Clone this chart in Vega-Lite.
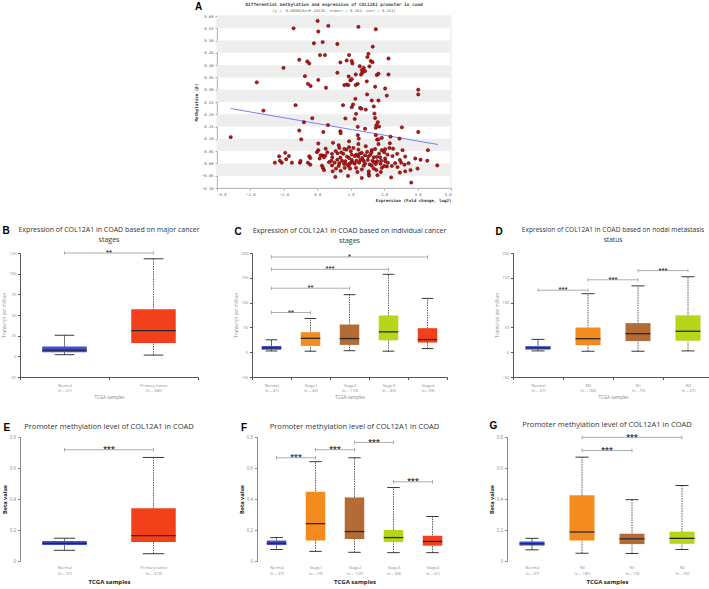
{
"$schema":"https://vega.github.io/schema/vega-lite/v6.json",
"background":"white",
"padding":{"top":1,"left":1,"right":1,"bottom":1},
"config":{"view":{"stroke":null},"font":"Open Sans","axis":{"labelFont":"Open Sans","titleFont":"Open Sans","labelOverlap":false,"tickCount":50},"title":{"font":"Open Sans"}},
"spacing":22,
"vconcat":[
{"spacing":0,"hconcat":[
 {"width":174,"height":10,"data":{"values":[{}]},"mark":{"type":"point","opacity":0},"encoding":{}},
 {"title":{"text":"A","orient":"left","angle":0,"anchor":"end","align":"left","baseline":"top","frame":"bounds","fontSize":10,"fontWeight":"bold","font":"Liberation Sans","color":"#000","offset":-8},
  "vconcat":[{
  "width":234,"height":172,
  "title":{"text":"Differential methylation and expression of COL12A1 promoter  in coad","subtitle":"(y = -0.000024x+0.18120, stderr = 0.163, corr = 0.141)","font":"DejaVu Sans Mono","fontSize":4.4,"fontWeight":"bold","color":"#444","subtitleFont":"DejaVu Sans Mono","subtitleFontSize":3.8,"subtitleColor":"#666","subtitlePadding":2,"offset":0},
  "view":{"stroke":"#cccccc","strokeWidth":0.5},
  "layer":[
   {"data":{"values":[{"from":0.55,"to":0.60},{"from":0.45,"to":0.50},{"from":0.35,"to":0.40},{"from":0.25,"to":0.30},{"from":0.15,"to":0.20},{"from":0.05,"to":0.10},{"from":-0.05,"to":0.0}]},
    "mark":{"type":"rect","color":"#eeeeee"},
    "encoding":{"y":{"field":"from","type":"quantitative","scale":{"domain":[-0.1,0.6],"nice":false,"zero":false},
      "axis":{"values":[-0.1,-0.05,0,0.05,0.1,0.15,0.2,0.25,0.3,0.35,0.4,0.45,0.5,0.55,0.6],"tickCount":50,"format":".2f","labelOverlap":false,"title":"Methylation (β)","grid":false,"labelFont":"DejaVu Sans Mono","labelFontSize":3.8,"labelColor":"#555","titleFont":"DejaVu Sans Mono","titleFontSize":4.2,"titleColor":"#333","tickSize":2,"tickColor":"#aaaaaa","domainColor":"#bbbbbb","labelPadding":2,"titlePadding":3}},
     "y2":{"field":"to"}}},
   {"data":{"values":[{"expr":-2.59,"meth":0.2235},{"expr":3.61,"meth":0.077}]},
    "mark":{"type":"line","color":"#7f7ff0","strokeWidth":1},
    "encoding":{"x":{"field":"expr","type":"quantitative","scale":{"domain":[-3,4],"nice":false,"zero":false},
      "axis":{"values":[-3,-2,-1,0,1,2,3,4],"tickCount":50,"labelOverlap":false,"title":"Expression (Fold change, log2)","titleAnchor":"end","grid":false,"labelFont":"DejaVu Sans Mono","labelFontSize":3.8,"labelColor":"#555","titleFont":"DejaVu Sans Mono","titleFontSize":4.2,"titleColor":"#333","tickSize":2,"tickColor":"#aaaaaa","domainColor":"#bbbbbb","labelPadding":2,"titlePadding":3}},
     "y":{"field":"meth","type":"quantitative","scale":{"domain":[-0.1,0.6],"nice":false,"zero":false}}}},
   {"data":{"values":[
{"expr":0.01,"meth":0.58},{"expr":0.33,"meth":0.56},{"expr":-0.71,"meth":0.55},{"expr":1.23,"meth":0.556},{"expr":1.75,"meth":0.546},{"expr":0.03,"meth":0.537},{"expr":-0.10,"meth":0.489},{"expr":0.16,"meth":0.494},{"expr":0.60,"meth":0.486},{"expr":1.66,"meth":0.475},{"expr":0.08,"meth":0.441},{"expr":0.23,"meth":0.441},{"expr":0.95,"meth":0.441},{"expr":1.53,"meth":0.446},{"expr":1.50,"meth":0.433},{"expr":2.13,"meth":0.427},{"expr":-0.54,"meth":0.422},{"expr":-0.30,"meth":0.415},{"expr":-0.24,"meth":0.407},{"expr":0.88,"meth":0.419},{"expr":0.69,"meth":0.411},{"expr":1.03,"meth":0.417},{"expr":1.05,"meth":0.407},{"expr":1.60,"meth":0.417},{"expr":1.65,"meth":0.412},{"expr":-1.01,"meth":0.389},{"expr":1.27,"meth":0.396},{"expr":1.39,"meth":0.389},{"expr":1.56,"meth":0.395},{"expr":1.33,"meth":0.38},{"expr":1.43,"meth":0.376},{"expr":1.35,"meth":0.369},{"expr":0.60,"meth":0.369},{"expr":1.15,"meth":0.362},{"expr":1.31,"meth":0.362},{"expr":-0.37,"meth":0.355},{"expr":0.94,"meth":0.354},{"expr":0.99,"meth":0.338},{"expr":1.03,"meth":0.343},{"expr":2.13,"meth":0.362},{"expr":1.78,"meth":0.36},{"expr":1.83,"meth":0.365},{"expr":0.03,"meth":0.34},{"expr":-1.81,"meth":0.33},{"expr":-0.28,"meth":0.324},{"expr":-0.20,"meth":0.315},{"expr":0.88,"meth":0.321},{"expr":0.81,"meth":0.319},{"expr":0.93,"meth":0.319},{"expr":1.15,"meth":0.319},{"expr":1.21,"meth":0.324},{"expr":1.48,"meth":0.334},{"expr":0.26,"meth":0.308},{"expr":1.73,"meth":0.312},{"expr":2.03,"meth":0.305},{"expr":3.02,"meth":0.30},{"expr":3.02,"meth":0.281},{"expr":1.49,"meth":0.281},{"expr":2.08,"meth":0.276},{"expr":1.14,"meth":0.263},{"expr":1.63,"meth":0.256},{"expr":1.83,"meth":0.256},{"expr":1.07,"meth":0.24},{"expr":1.03,"meth":0.229},{"expr":-0.65,"meth":0.237},{"expr":0.77,"meth":0.237},{"expr":1.69,"meth":0.232},{"expr":1.28,"meth":0.226},{"expr":1.32,"meth":0.223},{"expr":-1.61,"meth":0.215},{"expr":1.45,"meth":0.219},{"expr":1.71,"meth":0.203},{"expr":1.16,"meth":0.202},{"expr":1.73,"meth":0.185},{"expr":-0.15,"meth":0.184},{"expr":0.84,"meth":0.183},{"expr":1.12,"meth":0.181},{"expr":-0.40,"meth":0.168},{"expr":1.81,"meth":0.168},{"expr":1.77,"meth":0.156},{"expr":0.32,"meth":0.156},{"expr":-0.54,"meth":0.134},{"expr":1.75,"meth":0.145},{"expr":1.85,"meth":0.15},{"expr":1.43,"meth":0.141},{"expr":2.53,"meth":0.147},{"expr":1.21,"meth":0.149},{"expr":0.18,"meth":0.128},{"expr":0.69,"meth":0.131},{"expr":3.02,"meth":0.128},{"expr":-2.59,"meth":0.107},{"expr":-0.48,"meth":0.098},{"expr":1.75,"meth":0.115},{"expr":1.21,"meth":0.115},{"expr":1.79,"meth":0.097},{"expr":1.83,"meth":0.098},{"expr":0.70,"meth":0.123},{"expr":1.93,"meth":0.104},{"expr":2.19,"meth":0.109},{"expr":2.46,"meth":0.101},{"expr":1.24,"meth":0.101},
{"expr":0.03,"meth":0.081},{"expr":0.47,"meth":0.084},{"expr":0.95,"meth":0.09},{"expr":1.23,"meth":0.079},{"expr":1.83,"meth":0.079},{"expr":2.17,"meth":0.082},{"expr":0.64,"meth":0.074},{"expr":0.66,"meth":0.063},{"expr":1.45,"meth":0.07},{"expr":2.16,"meth":0.063},{"expr":2.27,"meth":0.06},{"expr":2.55,"meth":0.054},{"expr":3.31,"meth":0.054},{"expr":0.95,"meth":0.066},{"expr":0.87,"meth":0.056},{"expr":0.81,"meth":0.059},{"expr":1.08,"meth":0.063},{"expr":1.23,"meth":0.056},{"expr":0.03,"meth":0.054},{"expr":-0.01,"meth":0.046},{"expr":-0.96,"meth":0.043},{"expr":1.73,"meth":0.059},{"expr":1.63,"meth":0.054},{"expr":1.93,"meth":0.054},{"expr":2.03,"meth":0.058},{"expr":1.49,"meth":0.047},{"expr":1.33,"meth":0.043},{"expr":0.61,"meth":0.041},{"expr":0.44,"meth":0.039},{"expr":0.78,"meth":0.039},{"expr":1.03,"meth":0.036},{"expr":1.17,"meth":0.036},{"expr":1.43,"meth":0.033},{"expr":1.59,"meth":0.036},{"expr":2.10,"meth":0.036},{"expr":2.39,"meth":0.039},{"expr":0.15,"meth":0.033},{"expr":-0.85,"meth":0.03},{"expr":-1.14,"meth":0.029},{"expr":0.10,"meth":0.033},{"expr":0.24,"meth":0.032},{"expr":-0.24,"meth":0.029},{"expr":0.45,"meth":0.025},{"expr":0.69,"meth":0.024},{"expr":0.89,"meth":0.028},{"expr":0.95,"meth":0.022},{"expr":1.12,"meth":0.03},{"expr":1.23,"meth":0.028},{"expr":1.35,"meth":0.022},{"expr":1.53,"meth":0.028},{"expr":1.69,"meth":0.025},{"expr":1.78,"meth":0.027},{"expr":1.88,"meth":0.025},{"expr":2.03,"meth":0.02},{"expr":2.63,"meth":0.028},{"expr":-0.21,"meth":0.022},{"expr":0.07,"meth":0.02},{"expr":0.20,"meth":0.025},{"expr":-0.93,"meth":0.017},{"expr":-1.12,"meth":0.011},{"expr":0.42,"meth":0.011},{"expr":0.60,"meth":0.015},{"expr":0.74,"meth":0.011},{"expr":0.84,"meth":0.009},{"expr":1.03,"meth":0.014},{"expr":1.17,"meth":0.011},{"expr":1.29,"meth":0.014},{"expr":1.39,"meth":0.01},{"expr":1.51,"meth":0.014},{"expr":1.65,"meth":0.011},{"expr":1.79,"meth":0.009},{"expr":1.91,"meth":0.011},{"expr":2.03,"meth":0.009},{"expr":2.47,"meth":0.014},{"expr":3.09,"meth":0.015},{"expr":3.29,"meth":0.011},{"expr":2.93,"meth":0.02},{"expr":-1.27,"meth":0.003},{"expr":-1.06,"meth":0.003},{"expr":-0.76,"meth":0.003},{"expr":-0.52,"meth":0.003},{"expr":-0.28,"meth":0.003},{"expr":0.52,"meth":0.003},{"expr":0.66,"meth":0.001},{"expr":0.80,"meth":-0.002},{"expr":0.98,"meth":0.001},{"expr":1.12,"meth":-0.001},{"expr":1.25,"meth":0.003},{"expr":1.43,"meth":-0.001},{"expr":1.57,"meth":-0.004},{"expr":1.75,"meth":-0.002},{"expr":1.89,"meth":-0.001},{"expr":2.11,"meth":0.003},{"expr":2.33,"meth":0.001},{"expr":2.51,"meth":0.003},{"expr":2.73,"meth":0.001},{"expr":-0.21,"meth":-0.005},{"expr":0.14,"meth":-0.009},{"expr":0.44,"meth":-0.008},{"expr":0.64,"meth":-0.01},{"expr":0.94,"meth":-0.01},{"expr":1.39,"meth":-0.009},{"expr":1.63,"meth":-0.009},{"expr":2.08,"meth":-0.012},{"expr":2.23,"meth":-0.01},{"expr":2.61,"meth":-0.005},{"expr":3.59,"meth":-0.008},{"expr":0.17,"meth":-0.018},{"expr":0.20,"meth":-0.027},{"expr":0.56,"meth":-0.021},{"expr":0.82,"meth":-0.018},{"expr":0.98,"meth":-0.021},{"expr":1.16,"meth":-0.018},{"expr":1.33,"meth":-0.024},{"expr":1.69,"meth":-0.021},{"expr":1.77,"meth":-0.027},{"expr":1.93,"meth":-0.018},{"expr":3.00,"meth":-0.021},{"expr":2.79,"meth":-0.027},{"expr":2.63,"meth":-0.032},{"expr":1.54,"meth":-0.032},{"expr":2.47,"meth":-0.037},{"expr":1.54,"meth":-0.043},{"expr":0.54,"meth":-0.055},{"expr":0.92,"meth":-0.051},{"expr":1.33,"meth":-0.059},{"expr":2.21,"meth":-0.057},{"expr":2.81,"meth":-0.078},{"expr":1.55,"meth":-0.05},{"expr":0.46,"meth":-0.032},{"expr":1.80,"meth":-0.048},
{"expr":0.30,"meth":0.045},{"expr":0.55,"meth":0.05},{"expr":0.72,"meth":0.045},{"expr":1.00,"meth":0.05},{"expr":1.27,"meth":0.04},{"expr":1.62,"meth":0.045},{"expr":1.85,"meth":0.04},{"expr":2.25,"meth":0.03},{"expr":2.00,"meth":0.045},{"expr":0.35,"meth":0.005},{"expr":0.90,"meth":-0.005},{"expr":1.05,"meth":0.005},{"expr":1.70,"meth":0.005},{"expr":2.40,"meth":-0.015},{"expr":1.20,"meth":-0.035},{"expr":0.70,"meth":-0.03},{"expr":1.90,"meth":-0.035},{"expr":2.00,"meth":-0.01},{"expr":0.25,"meth":0.06},{"expr":-0.50,"meth":0.01}
   ]},
    "mark":{"type":"point","filled":true,"size":11,"color":"#cc1010","stroke":"#3a0000","strokeWidth":0.5,"opacity":1},
    "encoding":{"x":{"field":"expr","type":"quantitative","scale":{"domain":[-3,4],"nice":false,"zero":false}},
     "y":{"field":"meth","type":"quantitative","scale":{"domain":[-0.1,0.6],"nice":false,"zero":false}}}}
  ]}]}
]},
{"spacing":33,"hconcat":[
 {"title":{"text":"B","orient":"left","angle":0,"anchor":"end","align":"left","baseline":"top","frame":"bounds","fontSize":10,"fontWeight":"bold","font":"Liberation Sans","color":"#000","offset":-8},
  "vconcat":[{
  "width":178,"height":124,
  "title":{"text":["Expression of COL12A1 in COAD based on major cancer","stages"],"fontSize":7,"fontWeight":"normal","color":"#333","lineHeight":10,"offset":7},
  "layer":[
   {"data":{"values":[{"group":"Normal","min":2,"q1":5,"median":7.5,"q3":12,"max":25.5},{"group":"Primary tumor","min":1.5,"q1":16,"median":31,"q3":57,"max":118}]},
    "transform":[{"calculate":"indexof(['Normal','Primary tumor'], datum.group)","as":"idx"},{"calculate":"datum.idx-0.25","as":"lo"},{"calculate":"datum.idx+0.25","as":"hi"},{"calculate":"datum.idx-0.11","as":"clo"},{"calculate":"datum.idx+0.11","as":"chi"}],
    "layer":[
     {"mark":{"type":"rule","strokeWidth":0.8,"color":"#333"},
      "encoding":{"x":{"field":"idx","type":"quantitative","scale":{"domain":[-0.5,1.5],"nice":false,"zero":false},
        "axis":{"values":[-0.5,0,0.5,1,1.5],"tickCount":50,"title":"TCGA samples","grid":false,"domainColor":"#555","tickColor":"#555","tickSize":2.5,"tickOpacity":{"condition":{"test":"datum.value % 1 === 0","value":0},"value":1},"labelExpr":"datum.value % 1 !== 0 ? '' : [['Normal','Primary tumor'][datum.value], ['(n = 41)','(n = 286)'][datum.value]]","labelOverlap":false,"labelFlush":false,"labelFontSize":4,"labelColor":"#888","labelLineHeight":5.5,"labelPadding":3.5,"titleFontSize":4.5,"titleColor":"#888","titleFontWeight":"normal","titlePadding":1.5}},
       "y":{"field":"min","type":"quantitative","scale":{"domain":[-25,125],"nice":false,"zero":false},
        "axis":{"values":[-25,0,25,50,75,100,125],"tickCount":50,"labelOverlap":false,"title":"Transcript per million","grid":false,"domainColor":"#555","tickColor":"#555","tickSize":2.5,"labelFontSize":4,"labelColor":"#888","titleFontSize":4.5,"titleColor":"#888","titleFontWeight":"normal","labelPadding":2,"titlePadding":2}},
       "y2":{"field":"max"},
       "strokeDash":{"condition":{"test":"datum.group === 'Normal'","value":[1,0]},"value":[1.5,1]}}},
     {"mark":{"type":"rule","strokeWidth":0.9,"color":"#222"},"encoding":{"x":{"field":"clo","type":"quantitative"},"x2":{"field":"chi"},"y":{"field":"min","type":"quantitative"}}},
     {"mark":{"type":"rule","strokeWidth":0.9,"color":"#222"},"encoding":{"x":{"field":"clo","type":"quantitative"},"x2":{"field":"chi"},"y":{"field":"max","type":"quantitative"}}},
     {"mark":{"type":"bar"},"encoding":{"x":{"field":"lo","type":"quantitative"},"x2":{"field":"hi"},"y":{"field":"q1","type":"quantitative"},"y2":{"field":"q3"},
       "color":{"field":"group","type":"nominal","legend":null,"scale":{"domain":["Normal","Primary tumor","Stage1","Stage2","Stage3","Stage4","N0","N1","N2"],"range":["#3f4fd6","#f2401a","#f38b1f","#b36c36","#b5d619","#f2401a","#f38b1f","#b36c36","#b5d619"]}}}},
     {"mark":{"type":"rule","strokeWidth":1.3,"color":"#2a2a2a"},"encoding":{"x":{"field":"lo","type":"quantitative"},"x2":{"field":"hi"},"y":{"field":"median","type":"quantitative"}}}
    ]},
   {"data":{"values":[{"from":"Normal","to":"Primary tumor","level":125,"sig":"**"}]},
    "transform":[{"calculate":"indexof(['Normal','Primary tumor'], datum.from)","as":"a"},{"calculate":"indexof(['Normal','Primary tumor'], datum.to)","as":"b"},{"calculate":"(datum.a+datum.b)/2","as":"mid"},{"calculate":"datum.level-2","as":"lo"},{"calculate":"datum.level+2","as":"hi"}],
    "layer":[
     {"mark":{"type":"rule","color":"#999","strokeWidth":0.8},"encoding":{"x":{"field":"a","type":"quantitative"},"x2":{"field":"b"},"y":{"field":"level","type":"quantitative"}}},
     {"mark":{"type":"rule","color":"#999","strokeWidth":0.8},"encoding":{"x":{"field":"a","type":"quantitative"},"y":{"field":"lo","type":"quantitative"},"y2":{"field":"hi"}}},
     {"mark":{"type":"rule","color":"#999","strokeWidth":0.8},"encoding":{"x":{"field":"b","type":"quantitative"},"y":{"field":"lo","type":"quantitative"},"y2":{"field":"hi"}}},
     {"mark":{"type":"text","fontSize":5.5,"fontWeight":"bold","color":"#333","baseline":"alphabetic","dy":1},"encoding":{"x":{"field":"mid","type":"quantitative"},"y":{"field":"level","type":"quantitative"},"text":{"field":"sig"}}}
    ]}
  ]}]},
 {"spacing":46,"hconcat":[
 {"title":{"text":"C","orient":"left","angle":0,"anchor":"end","align":"left","baseline":"top","frame":"bounds","fontSize":10,"fontWeight":"bold","font":"Liberation Sans","color":"#000","offset":-8},
  "vconcat":[{
  "width":195,"height":124,
  "title":{"text":["Expression of COL12A1 in COAD based on individual cancer","stages"],"fontSize":7,"fontWeight":"normal","color":"#333","lineHeight":10,"offset":7},
  "layer":[
   {"data":{"values":[{"group":"Normal","min":2.5,"q1":5,"median":8.5,"q3":12.5,"max":25},{"group":"Stage1","min":2,"q1":12.7,"median":28,"q3":40.3,"max":68},{"group":"Stage2","min":3,"q1":14.7,"median":27.5,"q3":55.8,"max":116},{"group":"Stage3","min":2,"q1":24,"median":41,"q3":74,"max":157},{"group":"Stage4","min":7.3,"q1":19.4,"median":25.5,"q3":48.4,"max":108.4}]},
    "transform":[{"calculate":"indexof(['Normal','Stage1','Stage2','Stage3','Stage4'], datum.group)","as":"idx"},{"calculate":"datum.idx-0.25","as":"lo"},{"calculate":"datum.idx+0.25","as":"hi"},{"calculate":"datum.idx-0.15","as":"clo"},{"calculate":"datum.idx+0.15","as":"chi"}],
    "layer":[
     {"mark":{"type":"rule","strokeWidth":0.8,"color":"#333"},
      "encoding":{"x":{"field":"idx","type":"quantitative","scale":{"domain":[-0.5,4.5],"nice":false,"zero":false},
        "axis":{"values":[-0.5,0,0.5,1,1.5,2,2.5,3,3.5,4,4.5],"tickCount":50,"title":"TCGA samples","grid":false,"domainColor":"#555","tickColor":"#555","tickSize":2.5,"tickOpacity":{"condition":{"test":"datum.value % 1 === 0","value":0},"value":1},"labelExpr":"datum.value % 1 !== 0 ? '' : [['Normal','Stage1','Stage2','Stage3','Stage4'][datum.value], ['(n = 41)','(n = 45)','(n = 110)','(n = 80)','(n= 39)'][datum.value]]","labelOverlap":false,"labelFlush":false,"labelFontSize":4,"labelColor":"#888","labelLineHeight":5.5,"labelPadding":3.5,"titleFontSize":4.5,"titleColor":"#888","titleFontWeight":"normal","titlePadding":1.5}},
       "y":{"field":"min","type":"quantitative","scale":{"domain":[-50,200],"nice":false,"zero":false},
        "axis":{"values":[-50,0,50,100,150,200],"tickCount":50,"labelOverlap":false,"title":"Transcript per million","grid":false,"domainColor":"#555","tickColor":"#555","tickSize":2.5,"labelFontSize":4,"labelColor":"#888","titleFontSize":4.5,"titleColor":"#888","titleFontWeight":"normal","labelPadding":2,"titlePadding":2}},
       "y2":{"field":"max"},
       "strokeDash":{"condition":{"test":"datum.group === 'Normal'","value":[1,0]},"value":[1.5,1]}}},
     {"mark":{"type":"rule","strokeWidth":0.9,"color":"#222"},"encoding":{"x":{"field":"clo","type":"quantitative"},"x2":{"field":"chi"},"y":{"field":"min","type":"quantitative"}}},
     {"mark":{"type":"rule","strokeWidth":0.9,"color":"#222"},"encoding":{"x":{"field":"clo","type":"quantitative"},"x2":{"field":"chi"},"y":{"field":"max","type":"quantitative"}}},
     {"mark":{"type":"bar"},"encoding":{"x":{"field":"lo","type":"quantitative"},"x2":{"field":"hi"},"y":{"field":"q1","type":"quantitative"},"y2":{"field":"q3"},
       "color":{"field":"group","type":"nominal","legend":null,"scale":{"domain":["Normal","Primary tumor","Stage1","Stage2","Stage3","Stage4","N0","N1","N2"],"range":["#3f4fd6","#f2401a","#f38b1f","#b36c36","#b5d619","#f2401a","#f38b1f","#b36c36","#b5d619"]}}}},
     {"mark":{"type":"rule","strokeWidth":1.3,"color":"#2a2a2a"},"encoding":{"x":{"field":"lo","type":"quantitative"},"x2":{"field":"hi"},"y":{"field":"median","type":"quantitative"}}}
    ]},
   {"data":{"values":[{"from":"Normal","to":"Stage1","level":80,"sig":"**"},{"from":"Normal","to":"Stage2","level":129,"sig":"**"},{"from":"Normal","to":"Stage3","level":167,"sig":"***"},{"from":"Normal","to":"Stage4","level":192,"sig":"*"}]},
    "transform":[{"calculate":"indexof(['Normal','Stage1','Stage2','Stage3','Stage4'], datum.from)","as":"a"},{"calculate":"indexof(['Normal','Stage1','Stage2','Stage3','Stage4'], datum.to)","as":"b"},{"calculate":"(datum.a+datum.b)/2","as":"mid"},{"calculate":"datum.level-3.5","as":"lo"},{"calculate":"datum.level+3.5","as":"hi"}],
    "layer":[
     {"mark":{"type":"rule","color":"#999","strokeWidth":0.8},"encoding":{"x":{"field":"a","type":"quantitative"},"x2":{"field":"b"},"y":{"field":"level","type":"quantitative"}}},
     {"mark":{"type":"rule","color":"#999","strokeWidth":0.8},"encoding":{"x":{"field":"a","type":"quantitative"},"y":{"field":"lo","type":"quantitative"},"y2":{"field":"hi"}}},
     {"mark":{"type":"rule","color":"#999","strokeWidth":0.8},"encoding":{"x":{"field":"b","type":"quantitative"},"y":{"field":"lo","type":"quantitative"},"y2":{"field":"hi"}}},
     {"mark":{"type":"text","fontSize":5.5,"fontWeight":"bold","color":"#333","baseline":"alphabetic","dy":1},"encoding":{"x":{"field":"mid","type":"quantitative"},"y":{"field":"level","type":"quantitative"},"text":{"field":"sig"}}}
    ]}
  ]}]},
 {"title":{"text":"D","orient":"left","angle":0,"anchor":"end","align":"left","baseline":"top","frame":"bounds","fontSize":10,"fontWeight":"bold","font":"Liberation Sans","color":"#000","offset":-8},
  "vconcat":[{
  "width":200,"height":124,
  "title":{"text":["Expression of COL12A1 in COAD based on nodal metastasis","status"],"fontSize":6.6,"fontWeight":"normal","color":"#333","lineHeight":10,"offset":7},
  "layer":[
   {"data":{"values":[{"group":"Normal","min":2.6,"q1":5.3,"median":8.7,"q3":12.2,"max":25.8},{"group":"N0","min":1.9,"q1":14.2,"median":27.2,"q3":49.7,"max":118},{"group":"N1","min":1.9,"q1":22.4,"median":37.4,"q3":58.6,"max":133.7},{"group":"N2","min":2.6,"q1":23.1,"median":42.2,"q3":74.3,"max":152.2}]},
    "transform":[{"calculate":"indexof(['Normal','N0','N1','N2'], datum.group)","as":"idx"},{"calculate":"datum.idx-0.25","as":"lo"},{"calculate":"datum.idx+0.25","as":"hi"},{"calculate":"datum.idx-0.13","as":"clo"},{"calculate":"datum.idx+0.13","as":"chi"}],
    "layer":[
     {"mark":{"type":"rule","strokeWidth":0.8,"color":"#333"},
      "encoding":{"x":{"field":"idx","type":"quantitative","scale":{"domain":[-0.5,3.5],"nice":false,"zero":false},
        "axis":{"values":[-0.5,0,0.5,1,1.5,2,2.5,3,3.5],"tickCount":50,"title":"TCGA samples","grid":false,"domainColor":"#555","tickColor":"#555","tickSize":2.5,"tickOpacity":{"condition":{"test":"datum.value % 1 === 0","value":0},"value":1},"labelExpr":"datum.value % 1 !== 0 ? '' : [['Normal','N0','N1','N2'][datum.value], ['(n = 41)','(n = 166)','(n = 70)','(n = 47)'][datum.value]]","labelOverlap":false,"labelFlush":false,"labelFontSize":4,"labelColor":"#888","labelLineHeight":5.5,"labelPadding":3.5,"titleFontSize":4.5,"titleColor":"#888","titleFontWeight":"normal","titlePadding":1.5}},
       "y":{"field":"min","type":"quantitative","scale":{"domain":[-50,200],"nice":false,"zero":false},
        "axis":{"values":[-50,0,50,100,150,200],"tickCount":50,"labelOverlap":false,"title":"Transcript per million","grid":false,"domainColor":"#555","tickColor":"#555","tickSize":2.5,"labelFontSize":4,"labelColor":"#888","titleFontSize":4.5,"titleColor":"#888","titleFontWeight":"normal","labelPadding":2,"titlePadding":2}},
       "y2":{"field":"max"},
       "strokeDash":{"condition":{"test":"datum.group === 'Normal'","value":[1,0]},"value":[1.5,1]}}},
     {"mark":{"type":"rule","strokeWidth":0.9,"color":"#222"},"encoding":{"x":{"field":"clo","type":"quantitative"},"x2":{"field":"chi"},"y":{"field":"min","type":"quantitative"}}},
     {"mark":{"type":"rule","strokeWidth":0.9,"color":"#222"},"encoding":{"x":{"field":"clo","type":"quantitative"},"x2":{"field":"chi"},"y":{"field":"max","type":"quantitative"}}},
     {"mark":{"type":"bar"},"encoding":{"x":{"field":"lo","type":"quantitative"},"x2":{"field":"hi"},"y":{"field":"q1","type":"quantitative"},"y2":{"field":"q3"},
       "color":{"field":"group","type":"nominal","legend":null,"scale":{"domain":["Normal","Primary tumor","Stage1","Stage2","Stage3","Stage4","N0","N1","N2"],"range":["#3f4fd6","#f2401a","#f38b1f","#b36c36","#b5d619","#f2401a","#f38b1f","#b36c36","#b5d619"]}}}},
     {"mark":{"type":"rule","strokeWidth":1.3,"color":"#2a2a2a"},"encoding":{"x":{"field":"lo","type":"quantitative"},"x2":{"field":"hi"},"y":{"field":"median","type":"quantitative"}}}
    ]},
   {"data":{"values":[{"from":"Normal","to":"N0","level":125,"sig":"***"},{"from":"N0","to":"N1","level":146,"sig":"***"},{"from":"N1","to":"N2","level":164.5,"sig":"***"}]},
    "transform":[{"calculate":"indexof(['Normal','N0','N1','N2'], datum.from)","as":"a"},{"calculate":"indexof(['Normal','N0','N1','N2'], datum.to)","as":"b"},{"calculate":"(datum.a+datum.b)/2","as":"mid"},{"calculate":"datum.level-3.5","as":"lo"},{"calculate":"datum.level+3.5","as":"hi"}],
    "layer":[
     {"mark":{"type":"rule","color":"#999","strokeWidth":0.8},"encoding":{"x":{"field":"a","type":"quantitative"},"x2":{"field":"b"},"y":{"field":"level","type":"quantitative"}}},
     {"mark":{"type":"rule","color":"#999","strokeWidth":0.8},"encoding":{"x":{"field":"a","type":"quantitative"},"y":{"field":"lo","type":"quantitative"},"y2":{"field":"hi"}}},
     {"mark":{"type":"rule","color":"#999","strokeWidth":0.8},"encoding":{"x":{"field":"b","type":"quantitative"},"y":{"field":"lo","type":"quantitative"},"y2":{"field":"hi"}}},
     {"mark":{"type":"text","fontSize":5.5,"fontWeight":"bold","color":"#333","baseline":"alphabetic","dy":1},"encoding":{"x":{"field":"mid","type":"quantitative"},"y":{"field":"level","type":"quantitative"},"text":{"field":"sig"}}}
    ]}
  ]}]}
 ]}
]},
{"spacing":41,"hconcat":[
 {"title":{"text":"E","orient":"left","angle":0,"anchor":"end","align":"left","baseline":"top","frame":"bounds","fontSize":10,"fontWeight":"bold","font":"Liberation Sans","color":"#000","offset":-8},
  "vconcat":[{
  "width":178,"height":124,
  "title":{"text":"Promoter methylation level of COL12A1 in COAD","fontSize":7.5,"fontWeight":"normal","color":"#333","offset":4},
  "layer":[
   {"data":{"values":[{"group":"Normal","min":0.069,"q1":0.104,"median":0.114,"q3":0.129,"max":0.147},{"group":"Primary tumor","min":0.047,"q1":0.123,"median":0.164,"q3":0.341,"max":0.668}]},
    "transform":[{"calculate":"indexof(['Normal','Primary tumor'], datum.group)","as":"idx"},{"calculate":"datum.idx-0.25","as":"lo"},{"calculate":"datum.idx+0.25","as":"hi"},{"calculate":"datum.idx-0.12","as":"clo"},{"calculate":"datum.idx+0.12","as":"chi"}],
    "layer":[
     {"mark":{"type":"rule","strokeWidth":0.8,"color":"#333"},
      "encoding":{"x":{"field":"idx","type":"quantitative","scale":{"domain":[-0.5,1.5],"nice":false,"zero":false},
        "axis":{"values":[0,1],"tickCount":50,"title":"TCGA samples","grid":false,"domain":false,"ticks":false,"labelExpr":"[['Normal','Primary tumor'][datum.value], ['(n = 37)','(n = 313)'][datum.value]]","labelOverlap":false,"labelFlush":false,"labelFontSize":4,"labelColor":"#888","labelLineHeight":6,"labelPadding":4,"titleFontSize":6,"titleColor":"#222","titleFontWeight":"bold","titlePadding":3}},
       "y":{"field":"min","type":"quantitative","scale":{"domain":[0,0.8],"nice":false,"zero":false},
        "axis":{"values":[0,0.2,0.4,0.6,0.8],"tickCount":50,"labelOverlap":false,"format":".1~f","title":"Beta value","grid":false,"domainColor":"#888","tickColor":"#888","tickSize":2.5,"labelFontSize":4.5,"labelColor":"#888","titleFontSize":5.5,"titleColor":"#222","titleFontWeight":"bold","labelPadding":2,"titlePadding":2}},
       "y2":{"field":"max"},
       "strokeDash":{"condition":{"test":"datum.group === 'Normal'","value":[1,0]},"value":[1.5,1]}}},
     {"mark":{"type":"rule","strokeWidth":0.9,"color":"#222"},"encoding":{"x":{"field":"clo","type":"quantitative"},"x2":{"field":"chi"},"y":{"field":"min","type":"quantitative"}}},
     {"mark":{"type":"rule","strokeWidth":0.9,"color":"#222"},"encoding":{"x":{"field":"clo","type":"quantitative"},"x2":{"field":"chi"},"y":{"field":"max","type":"quantitative"}}},
     {"mark":{"type":"bar"},"encoding":{"x":{"field":"lo","type":"quantitative"},"x2":{"field":"hi"},"y":{"field":"q1","type":"quantitative"},"y2":{"field":"q3"},
       "color":{"field":"group","type":"nominal","legend":null,"scale":{"domain":["Normal","Primary tumor","Stage1","Stage2","Stage3","Stage4","N0","N1","N2"],"range":["#3f4fd6","#f2401a","#f38b1f","#b36c36","#b5d619","#f2401a","#f38b1f","#b36c36","#b5d619"]}}}},
     {"mark":{"type":"rule","strokeWidth":1.3,"color":"#2a2a2a"},"encoding":{"x":{"field":"lo","type":"quantitative"},"x2":{"field":"hi"},"y":{"field":"median","type":"quantitative"}}}
    ]},
   {"data":{"values":[{"from":"Normal","to":"Primary tumor","level":0.718,"sig":"***"}]},
    "transform":[{"calculate":"indexof(['Normal','Primary tumor'], datum.from)","as":"a"},{"calculate":"indexof(['Normal','Primary tumor'], datum.to)","as":"b"},{"calculate":"(datum.a+datum.b)/2","as":"mid"},{"calculate":"datum.level-0.012","as":"lo"},{"calculate":"datum.level+0.012","as":"hi"}],
    "layer":[
     {"mark":{"type":"rule","color":"#999","strokeWidth":0.8},"encoding":{"x":{"field":"a","type":"quantitative"},"x2":{"field":"b"},"y":{"field":"level","type":"quantitative"}}},
     {"mark":{"type":"rule","color":"#999","strokeWidth":0.8},"encoding":{"x":{"field":"a","type":"quantitative"},"y":{"field":"lo","type":"quantitative"},"y2":{"field":"hi"}}},
     {"mark":{"type":"rule","color":"#999","strokeWidth":0.8},"encoding":{"x":{"field":"b","type":"quantitative"},"y":{"field":"lo","type":"quantitative"},"y2":{"field":"hi"}}},
     {"mark":{"type":"text","fontSize":7,"fontWeight":"bold","color":"#333","baseline":"alphabetic","dy":1.5},"encoding":{"x":{"field":"mid","type":"quantitative"},"y":{"field":"level","type":"quantitative"},"text":{"field":"sig"}}}
    ]}
  ]}]},
 {"spacing":37,"hconcat":[
 {"title":{"text":"F","orient":"left","angle":0,"anchor":"end","align":"left","baseline":"top","frame":"bounds","fontSize":10,"fontWeight":"bold","font":"Liberation Sans","color":"#000","offset":-8},
  "vconcat":[{
  "width":195,"height":124,
  "title":{"text":"Promoter methylation level of COL12A1 in COAD","fontSize":7.5,"fontWeight":"normal","color":"#333","offset":4},
  "layer":[
   {"data":{"values":[{"group":"Normal","min":0.074,"q1":0.103,"median":0.115,"q3":0.132,"max":0.151},{"group":"Stage1","min":0.062,"q1":0.132,"median":0.241,"q3":0.447,"max":0.641},{"group":"Stage2","min":0.056,"q1":0.142,"median":0.19,"q3":0.41,"max":0.666},{"group":"Stage3","min":0.054,"q1":0.122,"median":0.151,"q3":0.2,"max":0.474},{"group":"Stage4","min":0.054,"q1":0.099,"median":0.126,"q3":0.163,"max":0.287}]},
    "transform":[{"calculate":"indexof(['Normal','Stage1','Stage2','Stage3','Stage4'], datum.group)","as":"idx"},{"calculate":"datum.idx-0.25","as":"lo"},{"calculate":"datum.idx+0.25","as":"hi"},{"calculate":"datum.idx-0.16","as":"clo"},{"calculate":"datum.idx+0.16","as":"chi"}],
    "layer":[
     {"mark":{"type":"rule","strokeWidth":0.8,"color":"#333"},
      "encoding":{"x":{"field":"idx","type":"quantitative","scale":{"domain":[-0.5,4.5],"nice":false,"zero":false},
        "axis":{"values":[0,1,2,3,4],"tickCount":50,"title":"TCGA samples","grid":false,"domain":false,"ticks":false,"labelExpr":"[['Normal','Stage1','Stage2','Stage3','Stage4'][datum.value], ['(n = 37)','(n = 50)','(n = 122)','(n = 88)','(n = 41)'][datum.value]]","labelOverlap":false,"labelFlush":false,"labelFontSize":4,"labelColor":"#888","labelLineHeight":6,"labelPadding":4,"titleFontSize":6,"titleColor":"#222","titleFontWeight":"bold","titlePadding":3}},
       "y":{"field":"min","type":"quantitative","scale":{"domain":[0,0.8],"nice":false,"zero":false},
        "axis":{"values":[0,0.2,0.4,0.6,0.8],"tickCount":50,"labelOverlap":false,"format":".1~f","title":"Beta value","grid":false,"domainColor":"#888","tickColor":"#888","tickSize":2.5,"labelFontSize":4.5,"labelColor":"#888","titleFontSize":5.5,"titleColor":"#222","titleFontWeight":"bold","labelPadding":2,"titlePadding":2}},
       "y2":{"field":"max"},
       "strokeDash":{"condition":{"test":"datum.group === 'Normal'","value":[1,0]},"value":[1.5,1]}}},
     {"mark":{"type":"rule","strokeWidth":0.9,"color":"#222"},"encoding":{"x":{"field":"clo","type":"quantitative"},"x2":{"field":"chi"},"y":{"field":"min","type":"quantitative"}}},
     {"mark":{"type":"rule","strokeWidth":0.9,"color":"#222"},"encoding":{"x":{"field":"clo","type":"quantitative"},"x2":{"field":"chi"},"y":{"field":"max","type":"quantitative"}}},
     {"mark":{"type":"bar"},"encoding":{"x":{"field":"lo","type":"quantitative"},"x2":{"field":"hi"},"y":{"field":"q1","type":"quantitative"},"y2":{"field":"q3"},
       "color":{"field":"group","type":"nominal","legend":null,"scale":{"domain":["Normal","Primary tumor","Stage1","Stage2","Stage3","Stage4","N0","N1","N2"],"range":["#3f4fd6","#f2401a","#f38b1f","#b36c36","#b5d619","#f2401a","#f38b1f","#b36c36","#b5d619"]}}}},
     {"mark":{"type":"rule","strokeWidth":1.3,"color":"#2a2a2a"},"encoding":{"x":{"field":"lo","type":"quantitative"},"x2":{"field":"hi"},"y":{"field":"median","type":"quantitative"}}}
    ]},
   {"data":{"values":[{"from":"Normal","to":"Stage1","level":0.666,"sig":"***"},{"from":"Stage1","to":"Stage2","level":0.718,"sig":"***"},{"from":"Stage2","to":"Stage3","level":0.765,"sig":"***"},{"from":"Stage3","to":"Stage4","level":0.511,"sig":"***"}]},
    "transform":[{"calculate":"indexof(['Normal','Stage1','Stage2','Stage3','Stage4'], datum.from)","as":"a"},{"calculate":"indexof(['Normal','Stage1','Stage2','Stage3','Stage4'], datum.to)","as":"b"},{"calculate":"(datum.a+datum.b)/2","as":"mid"},{"calculate":"datum.level-0.012","as":"lo"},{"calculate":"datum.level+0.012","as":"hi"}],
    "layer":[
     {"mark":{"type":"rule","color":"#999","strokeWidth":0.8},"encoding":{"x":{"field":"a","type":"quantitative"},"x2":{"field":"b"},"y":{"field":"level","type":"quantitative"}}},
     {"mark":{"type":"rule","color":"#999","strokeWidth":0.8},"encoding":{"x":{"field":"a","type":"quantitative"},"y":{"field":"lo","type":"quantitative"},"y2":{"field":"hi"}}},
     {"mark":{"type":"rule","color":"#999","strokeWidth":0.8},"encoding":{"x":{"field":"b","type":"quantitative"},"y":{"field":"lo","type":"quantitative"},"y2":{"field":"hi"}}},
     {"mark":{"type":"text","fontSize":7,"fontWeight":"bold","color":"#333","baseline":"alphabetic","dy":1.5},"encoding":{"x":{"field":"mid","type":"quantitative"},"y":{"field":"level","type":"quantitative"},"text":{"field":"sig"}}}
    ]}
  ]}]},
 {"title":{"text":"G","orient":"left","angle":0,"anchor":"end","align":"left","baseline":"top","frame":"bounds","fontSize":10,"fontWeight":"bold","font":"Liberation Sans","color":"#000","offset":-8},
  "vconcat":[{
  "width":200,"height":124,
  "title":{"text":"Promoter methylation level of COL12A1 in COAD","fontSize":7.5,"fontWeight":"normal","color":"#333","offset":4},
  "layer":[
   {"data":{"values":[{"group":"Normal","min":0.072,"q1":0.1,"median":0.111,"q3":0.126,"max":0.146},{"group":"N0","min":0.05,"q1":0.133,"median":0.187,"q3":0.424,"max":0.67},{"group":"N1","min":0.048,"q1":0.109,"median":0.143,"q3":0.176,"max":0.396},{"group":"N2","min":0.074,"q1":0.111,"median":0.146,"q3":0.189,"max":0.487}]},
    "transform":[{"calculate":"indexof(['Normal','N0','N1','N2'], datum.group)","as":"idx"},{"calculate":"datum.idx-0.25","as":"lo"},{"calculate":"datum.idx+0.25","as":"hi"},{"calculate":"datum.idx-0.13","as":"clo"},{"calculate":"datum.idx+0.13","as":"chi"}],
    "layer":[
     {"mark":{"type":"rule","strokeWidth":0.8,"color":"#333"},
      "encoding":{"x":{"field":"idx","type":"quantitative","scale":{"domain":[-0.5,3.5],"nice":false,"zero":false},
        "axis":{"values":[0,1,2,3],"tickCount":50,"title":"TCGA samples","grid":false,"domain":false,"ticks":false,"labelExpr":"[['Normal','N0','N1','N2'][datum.value], ['(n = 37)','(n = 185)','(n = 74)','(n = 50)'][datum.value]]","labelOverlap":false,"labelFlush":false,"labelFontSize":4,"labelColor":"#888","labelLineHeight":6,"labelPadding":4,"titleFontSize":6,"titleColor":"#222","titleFontWeight":"bold","titlePadding":3}},
       "y":{"field":"min","type":"quantitative","scale":{"domain":[0,0.8],"nice":false,"zero":false},
        "axis":{"values":[0,0.2,0.4,0.6,0.8],"tickCount":50,"labelOverlap":false,"format":".1~f","title":"Beta value","grid":false,"domainColor":"#888","tickColor":"#888","tickSize":2.5,"labelFontSize":4.5,"labelColor":"#888","titleFontSize":5.5,"titleColor":"#222","titleFontWeight":"bold","labelPadding":2,"titlePadding":2}},
       "y2":{"field":"max"},
       "strokeDash":{"condition":{"test":"datum.group === 'Normal'","value":[1,0]},"value":[1.5,1]}}},
     {"mark":{"type":"rule","strokeWidth":0.9,"color":"#222"},"encoding":{"x":{"field":"clo","type":"quantitative"},"x2":{"field":"chi"},"y":{"field":"min","type":"quantitative"}}},
     {"mark":{"type":"rule","strokeWidth":0.9,"color":"#222"},"encoding":{"x":{"field":"clo","type":"quantitative"},"x2":{"field":"chi"},"y":{"field":"max","type":"quantitative"}}},
     {"mark":{"type":"bar"},"encoding":{"x":{"field":"lo","type":"quantitative"},"x2":{"field":"hi"},"y":{"field":"q1","type":"quantitative"},"y2":{"field":"q3"},
       "color":{"field":"group","type":"nominal","legend":null,"scale":{"domain":["Normal","Primary tumor","Stage1","Stage2","Stage3","Stage4","N0","N1","N2"],"range":["#3f4fd6","#f2401a","#f38b1f","#b36c36","#b5d619","#f2401a","#f38b1f","#b36c36","#b5d619"]}}}},
     {"mark":{"type":"rule","strokeWidth":1.3,"color":"#2a2a2a"},"encoding":{"x":{"field":"lo","type":"quantitative"},"x2":{"field":"hi"},"y":{"field":"median","type":"quantitative"}}}
    ]},
   {"data":{"values":[{"from":"N0","to":"N1","level":0.713,"sig":"***"},{"from":"N0","to":"N2","level":0.798,"sig":"***"}]},
    "transform":[{"calculate":"indexof(['Normal','N0','N1','N2'], datum.from)","as":"a"},{"calculate":"indexof(['Normal','N0','N1','N2'], datum.to)","as":"b"},{"calculate":"(datum.a+datum.b)/2","as":"mid"},{"calculate":"datum.level-0.012","as":"lo"},{"calculate":"datum.level+0.012","as":"hi"}],
    "layer":[
     {"mark":{"type":"rule","color":"#999","strokeWidth":0.8},"encoding":{"x":{"field":"a","type":"quantitative"},"x2":{"field":"b"},"y":{"field":"level","type":"quantitative"}}},
     {"mark":{"type":"rule","color":"#999","strokeWidth":0.8},"encoding":{"x":{"field":"a","type":"quantitative"},"y":{"field":"lo","type":"quantitative"},"y2":{"field":"hi"}}},
     {"mark":{"type":"rule","color":"#999","strokeWidth":0.8},"encoding":{"x":{"field":"b","type":"quantitative"},"y":{"field":"lo","type":"quantitative"},"y2":{"field":"hi"}}},
     {"mark":{"type":"text","fontSize":7,"fontWeight":"bold","color":"#333","baseline":"alphabetic","dy":1.5},"encoding":{"x":{"field":"mid","type":"quantitative"},"y":{"field":"level","type":"quantitative"},"text":{"field":"sig"}}}
    ]}
  ]}]}
 ]}
]}
]
}
